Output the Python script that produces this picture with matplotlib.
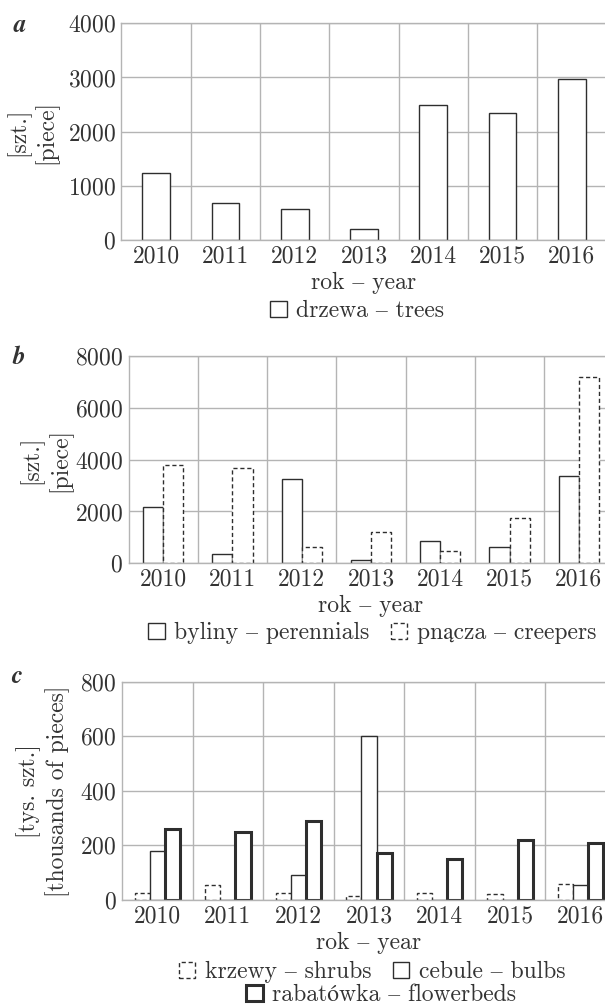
import matplotlib
matplotlib.use('Agg')
import numpy as np
from matplotlib import pyplot as plt
from matplotlib.patches import Patch

# data
years = ['2010', '2011', '2012', '2013', '2014', '2015', '2016']
trees = [1230, 690, 570, 200, 2500, 2340, 2970]
perennials = [2160, 350, 3250, 115, 850, 630, 3370]
creepers = [3780, 3690, 640, 1210, 480, 1740, 7180]
shrubs = [24, 54, 24, 15, 24, 21, 59]
bulbs = [180, 0, 92, 600, 0, 0, 54]
flowerbeds = [259, 249, 289, 172, 151, 219, 209]

plt.rcParams['font.family'] = ['cmr10', 'STIXGeneral', 'DejaVu Serif']
plt.rcParams['font.size'] = 17
plt.rcParams['axes.formatter.use_mathtext'] = True

GRID = '#b4b4b4'
EDGE = '#2e2e2e'
TXT = '#333333'
DASH = (0, (3, 2))

W, H = 605, 1008
fig = plt.figure(figsize=(W / 100, H / 100), dpi=100)


def px_axes(left, top, right, bottom):
    return fig.add_axes([left / W, 1 - bottom / H, (right - left) / W, (bottom - top) / H])


def style(ax, ymax, step, ylabel, ylab_x):
    x = np.arange(len(years))
    ax.set_xlim(-0.5, len(years) - 0.5)
    ax.set_ylim(0, ymax)
    ax.set_yticks(np.arange(0, ymax + 1, step))
    ax.set_xticks(x)
    ax.set_xticklabels(years)
    ax.set_xticks(x[:-1] + 0.5, minor=True)
    ax.grid(which='minor', axis='x', color=GRID, lw=1)
    ax.grid(which='major', axis='y', color=GRID, lw=1)
    ax.set_axisbelow(True)
    ax.tick_params(which='both', length=0, labelcolor=TXT)
    ax.tick_params(axis='x', pad=4)
    ax.tick_params(axis='y', pad=4)
    for s in ax.spines.values():
        s.set_color(GRID)
        s.set_linewidth(1)
    ax.set_xlabel('rok – year', color=TXT)
    ax.xaxis.label.set_va('center')
    h = ax.get_position().height * H
    ax.xaxis.set_label_coords(0.5, -43 / h)
    ax.set_ylabel(ylabel, color=TXT, linespacing=1.2)
    ax.yaxis.label.set_va('center')
    ax.yaxis.set_label_coords(ylab_x, 0.5)


x = np.arange(len(years))
leg_kw = dict(loc='center', bbox_transform=fig.transFigure, frameon=False,
              handlelength=0.7, handleheight=0.7, handletextpad=0.4,
              columnspacing=0.9, labelcolor=TXT, borderpad=0.2)

# panel a
ax = px_axes(121.5, 23.3, 606.5, 240)
ax.bar(x, trees, 0.40, facecolor='white', edgecolor=EDGE, lw=1)
style(ax, 4000, 1000, '[szt.]\n[piece]', -0.185)
ax.legend(handles=[Patch(facecolor='white', edgecolor=EDGE, lw=1, label='drzewa – trees')],
          bbox_to_anchor=(357 / W, 1 - 311 / H), **leg_kw)
fig.text(20 / W, 1 - 25 / H, 'a', family='STIXGeneral', weight='bold', style='italic',
         fontsize=18, ha='center', va='center', color=TXT)

# panel b
w = 0.29
ax = px_axes(128.5, 356, 613.5, 563.3)
ax.bar(x - w / 2, perennials, w, facecolor='white', edgecolor=EDGE, lw=1)
ax.bar(x + w / 2, creepers, w, facecolor='white', edgecolor=EDGE, lw=1, linestyle=DASH)
style(ax, 8000, 2000, '[szt.]\n[piece]', -0.171)
ax.legend(handles=[Patch(facecolor='white', edgecolor=EDGE, lw=1, label='byliny – perennials'),
                   Patch(facecolor='white', edgecolor=EDGE, lw=1, linestyle=DASH,
                         label='pnącza – creepers')],
          bbox_to_anchor=(372 / W, 1 - 633 / H), ncol=2, **leg_kw)
fig.text(19 / W, 1 - 357 / H, 'b', family='STIXGeneral', weight='bold', style='italic',
         fontsize=18, ha='center', va='center', color=TXT)

# panel c
w = 0.215
ax = px_axes(122, 681.7, 616, 900)
ax.bar(x - w, shrubs, w, facecolor='white', edgecolor=EDGE, lw=1, linestyle=DASH)
ax.bar(x, bulbs, w, facecolor='white', edgecolor=EDGE, lw=1)
ax.bar(x + w, flowerbeds, w, facecolor='white', edgecolor=EDGE, lw=2.2)
style(ax, 800, 200, '[tys. szt.]\n[thousands of pieces]', -0.16)
leg1 = ax.legend(handles=[Patch(facecolor='white', edgecolor=EDGE, lw=1, linestyle=DASH,
                                label='krzewy – shrubs'),
                          Patch(facecolor='white', edgecolor=EDGE, lw=1, label='cebule – bulbs')],
                 bbox_to_anchor=(372 / W, 1 - 972 / H), ncol=2, **leg_kw)
ax.add_artist(leg1)
ax.legend(handles=[Patch(facecolor='white', edgecolor=EDGE, lw=2.2, label='rabatówka – flowerbeds')],
          bbox_to_anchor=(381 / W, 1 - 995 / H), **leg_kw)
fig.text(17 / W, 1 - 676 / H, 'c', family='STIXGeneral', weight='bold', style='italic',
         fontsize=18, ha='center', va='center', color=TXT)

fig.savefig('out.png', dpi=100)
